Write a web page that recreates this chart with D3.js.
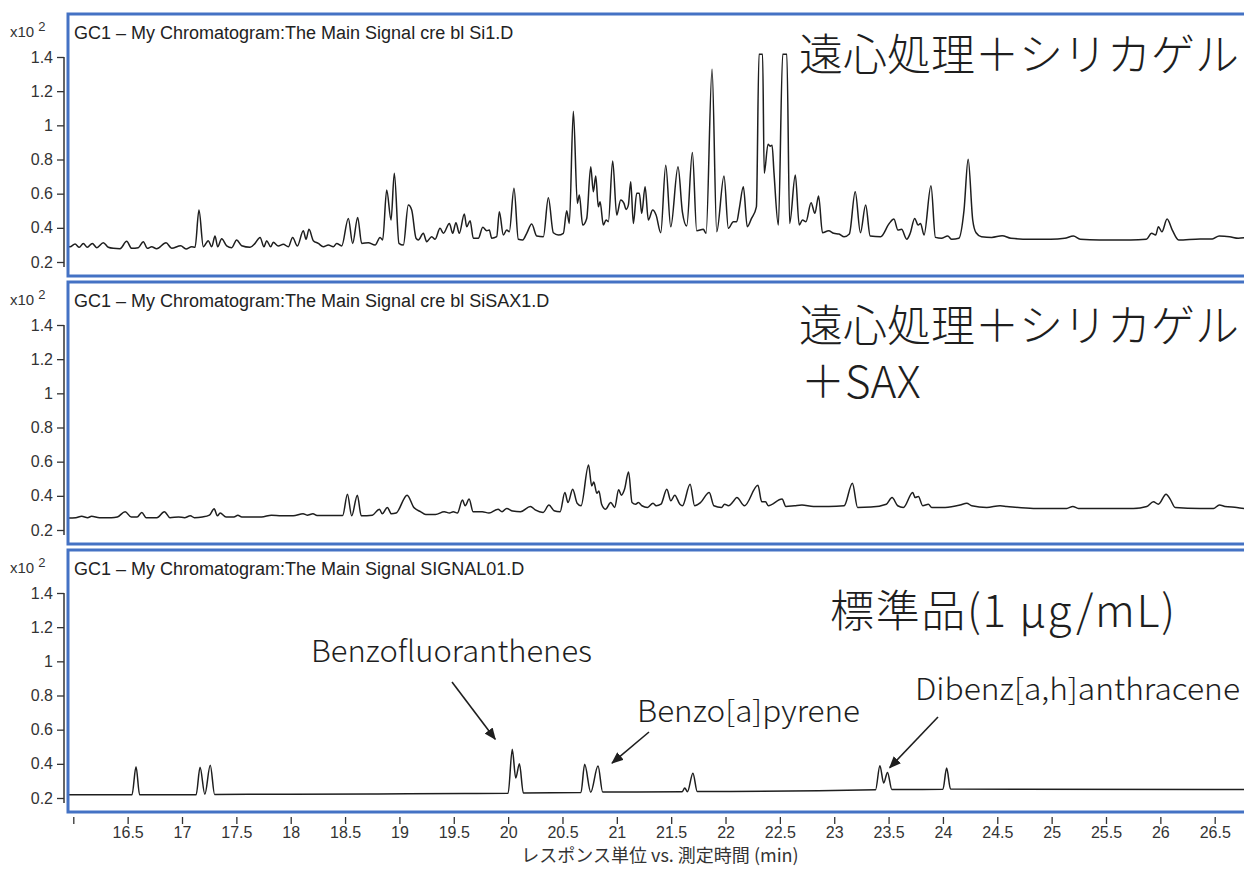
<!DOCTYPE html>
<html>
<head>
<meta charset="utf-8">
<script src="https://cdn.jsdelivr.net/npm/d3@7"></script>
<style>
  body { margin: 0; background: #fff; }
  svg { display: block; }
</style>
</head>
<body>
<svg id="chart" width="1244" height="870"></svg>
<script>
// Retention time (min) / response (x10^2) pairs for each run
const traceSi1 = [
  [15.94,0.29],[15.97,0.289],[16.016,0.305],[16.055,0.286],[16.092,0.309],[16.129,0.286],[16.175,0.309],[16.215,0.284],
  [16.276,0.313],[16.322,0.286],[16.368,0.28],[16.43,0.278],[16.491,0.321],[16.537,0.28],[16.598,0.284],[16.644,0.319],
  [16.681,0.28],[16.721,0.289],[16.767,0.278],[16.853,0.313],[16.905,0.28],[16.988,0.295],[17.037,0.276],[17.089,0.289],
  [17.12,0.286],[17.156,0.504],[17.196,0.289],[17.242,0.325],[17.273,0.289],[17.304,0.352],[17.328,0.289],[17.365,0.336],
  [17.411,0.294],[17.457,0.284],[17.503,0.329],[17.549,0.295],[17.626,0.286],[17.672,0.309],[17.718,0.344],[17.754,0.289],
  [17.779,0.325],[17.816,0.289],[17.84,0.315],[17.886,0.294],[17.932,0.304],[17.978,0.289],[18.018,0.344],[18.061,0.294],
  [18.116,0.383],[18.141,0.333],[18.168,0.391],[18.208,0.325],[18.254,0.309],[18.30,0.289],[18.346,0.299],[18.392,0.289],
  [18.423,0.309],[18.469,0.294],[18.53,0.455],[18.57,0.309],[18.616,0.461],[18.653,0.309],[18.714,0.313],[18.776,0.299],
  [18.822,0.344],[18.846,0.329],[18.883,0.621],[18.923,0.446],[18.953,0.719],[18.996,0.309],[19.036,0.299],[19.082,0.533],
  [19.113,0.504],[19.153,0.339],[19.174,0.329],[19.22,0.368],[19.251,0.319],[19.297,0.348],[19.328,0.333],[19.374,0.397],
  [19.405,0.368],[19.46,0.426],[19.49,0.368],[19.52,0.43],[19.551,0.368],[19.597,0.481],[19.619,0.406],[19.65,0.442],
  [19.68,0.339],[19.726,0.339],[19.767,0.403],[19.803,0.383],[19.827,0.387],[19.849,0.339],[19.895,0.348],[19.919,0.494],
  [19.956,0.358],[19.987,0.387],[20.011,0.377],[20.054,0.631],[20.094,0.333],[20.134,0.329],[20.171,0.368],[20.217,0.422],
  [20.263,0.352],[20.324,0.348],[20.37,0.576],[20.416,0.371],[20.462,0.358],[20.508,0.368],[20.539,0.5],[20.563,0.426],
  [20.60,1.083],[20.637,0.543],[20.655,0.592],[20.686,0.416],[20.723,0.455],[20.76,0.757],[20.784,0.611],[20.806,0.703],
  [20.83,0.523],[20.846,0.553],[20.876,0.416],[20.901,0.446],[20.922,0.436],[20.962,0.791],[20.999,0.475],[21.036,0.563],
  [21.066,0.543],[21.085,0.508],[21.106,0.533],[21.128,0.67],[21.152,0.426],[21.183,0.602],[21.207,0.602],[21.229,0.485],
  [21.26,0.64],[21.29,0.446],[21.33,0.504],[21.361,0.475],[21.404,0.371],[21.45,0.767],[21.496,0.406],[21.563,0.757],
  [21.603,0.494],[21.643,0.411],[21.695,0.841],[21.735,0.383],[21.796,0.391],[21.821,0.368],[21.876,1.329],[21.919,0.377],
  [21.986,0.703],[22.026,0.397],[22.072,0.436],[22.103,0.436],[22.127,0.514],[22.164,0.64],[22.20,0.406],[22.239,0.455],
  [22.284,0.523],[22.308,1.416],[22.341,1.416],[22.356,0.719],[22.391,0.89],[22.41,0.878],[22.428,0.884],[22.446,0.72],
  [22.486,0.416],[22.526,1.416],[22.564,1.416],[22.59,0.426],[22.642,0.709],[22.678,0.416],[22.708,0.446],[22.74,0.436],
  [22.787,0.547],[22.822,0.485],[22.856,0.586],[22.892,0.371],[22.948,0.383],[22.996,0.368],[23.044,0.364],[23.091,0.348],
  [23.139,0.364],[23.193,0.611],[23.241,0.371],[23.289,0.533],[23.331,0.352],[23.427,0.348],[23.506,0.426],[23.549,0.451],
  [23.586,0.387],[23.619,0.391],[23.667,0.333],[23.699,0.368],[23.74,0.455],[23.772,0.416],[23.794,0.426],[23.826,0.358],
  [23.89,0.646],[23.931,0.344],[23.986,0.339],[24.044,0.352],[24.081,0.333],[24.146,0.339],[24.194,0.504],[24.232,0.802],
  [24.274,0.446],[24.305,0.371],[24.354,0.348],[24.449,0.344],[24.545,0.354],[24.625,0.339],[24.801,0.333],[24.992,0.333],
  [25.12,0.339],[25.2,0.352],[25.263,0.333],[25.439,0.329],[25.727,0.329],[25.871,0.333],[25.919,0.368],[25.957,0.358],
  [25.982,0.406],[26.014,0.377],[26.062,0.451],[26.11,0.387],[26.168,0.329],[26.366,0.335],[26.478,0.335],[26.541,0.352],
  [26.637,0.348],[26.717,0.339],[26.774,0.342]
];

const traceSiSAX = [
  [15.94,0.27],[15.958,0.27],[16.023,0.272],[16.077,0.28],[16.132,0.272],[16.168,0.28],[16.241,0.272],[16.35,0.272],
  [16.405,0.276],[16.477,0.307],[16.533,0.276],[16.587,0.276],[16.63,0.303],[16.671,0.272],[16.769,0.272],[16.838,0.307],
  [16.889,0.272],[16.969,0.276],[17.023,0.272],[17.077,0.283],[17.114,0.272],[17.187,0.276],[17.252,0.287],[17.296,0.324],
  [17.325,0.283],[17.351,0.299],[17.405,0.276],[17.478,0.276],[17.514,0.287],[17.55,0.276],[17.623,0.276],[17.732,0.276],
  [17.823,0.287],[17.915,0.283],[18.023,0.283],[18.114,0.295],[18.151,0.287],[18.205,0.295],[18.242,0.285],[18.387,0.285],
  [18.478,0.285],[18.522,0.41],[18.561,0.283],[18.613,0.404],[18.649,0.283],[18.751,0.287],[18.816,0.322],[18.842,0.295],
  [18.889,0.332],[18.926,0.295],[18.969,0.299],[19.071,0.404],[19.133,0.332],[19.194,0.307],[19.242,0.291],[19.332,0.291],
  [19.412,0.307],[19.46,0.299],[19.496,0.307],[19.533,0.299],[19.58,0.375],[19.605,0.342],[19.641,0.381],[19.678,0.307],
  [19.762,0.307],[19.824,0.299],[19.907,0.322],[19.944,0.307],[19.987,0.326],[20.042,0.311],[20.114,0.307],[20.205,0.338],
  [20.249,0.318],[20.322,0.303],[20.376,0.346],[20.423,0.313],[20.478,0.307],[20.522,0.419],[20.551,0.361],[20.594,0.439],
  [20.635,0.357],[20.671,0.342],[20.74,0.58],[20.769,0.458],[20.788,0.481],[20.816,0.415],[20.835,0.429],[20.86,0.351],
  [20.896,0.322],[20.944,0.361],[20.98,0.332],[21.017,0.435],[21.042,0.404],[21.071,0.439],[21.108,0.54],[21.14,0.361],
  [21.173,0.351],[21.198,0.361],[21.231,0.342],[21.282,0.332],[21.333,0.357],[21.362,0.342],[21.406,0.351],[21.46,0.439],
  [21.497,0.371],[21.533,0.404],[21.58,0.351],[21.604,0.342],[21.674,0.468],[21.716,0.342],[21.769,0.36],[21.85,0.42],
  [21.893,0.342],[21.963,0.332],[21.991,0.351],[22.027,0.342],[22.069,0.365],[22.104,0.39],[22.174,0.342],[22.298,0.462],
  [22.333,0.365],[22.368,0.365],[22.393,0.342],[22.52,0.381],[22.555,0.338],[22.633,0.342],[22.703,0.346],[22.809,0.338],
  [22.95,0.338],[23.091,0.342],[23.167,0.474],[23.215,0.332],[23.338,0.334],[23.479,0.351],[23.532,0.39],[23.584,0.342],
  [23.636,0.332],[23.722,0.42],[23.744,0.39],[23.774,0.396],[23.814,0.342],[23.866,0.351],[23.897,0.332],[24.02,0.332],
  [24.158,0.346],[24.219,0.357],[24.265,0.342],[24.403,0.332],[24.526,0.342],[24.587,0.338],[24.832,0.326],[25.139,0.326],
  [25.195,0.338],[25.246,0.326],[25.752,0.326],[25.875,0.338],[25.936,0.365],[25.982,0.351],[26.053,0.41],[26.09,0.381],
  [26.136,0.332],[26.366,0.326],[26.488,0.326],[26.543,0.346],[26.595,0.338],[26.703,0.332],[26.774,0.326]
];

const traceStandard = [
  [15.94,0.219],[16.54,0.219],[16.577,0.383],[16.61,0.219],[17.13,0.219],[17.166,0.38],[17.21,0.222],[17.26,0.391],
  [17.30,0.221],[18.0,0.222],[18.8,0.224],[19.6,0.226],[20.0,0.228],[20.038,0.485],[20.07,0.317],[20.104,0.40],
  [20.14,0.23],[20.67,0.232],[20.704,0.397],[20.76,0.234],[20.827,0.387],[20.87,0.235],[21.6,0.236],[21.625,0.258],
  [21.65,0.237],[21.70,0.345],[21.74,0.238],[23.38,0.248],[23.42,0.389],[23.455,0.288],[23.49,0.35],[23.53,0.25],
  [24.0,0.251],[24.034,0.375],[24.07,0.252],[26.77,0.25]
];

const timeTicks = [16,16.5,17,17.5,18,18.5,19,19.5,20,20.5,21,21.5,22,22.5,23,23.5,24,24.5,25,25.5,26,26.5];
const responseTicks = [0.2,0.4,0.6,0.8,1,1.2,1.4];
const runTitles = [
  "GC1 \u2013 My Chromatogram:The Main Signal cre bl Si1.D",
  "GC1 \u2013 My Chromatogram:The Main Signal cre bl SiSAX1.D",
  "GC1 \u2013 My Chromatogram:The Main Signal SIGNAL01.D"
];
const runLabels = [
  ["遠心処理＋シリカゲル"],
  ["遠心処理＋シリカゲル", "＋SAX"],
  ["標準品(1 μg/mL)"]
];
const compoundNames = ["Benzofluoranthenes", "Benzo[a]pyrene", "Dibenz[a,h]anthracene"];
// compound label anchored near the peak it points at: [peak time, peak response]
const compoundPeaks = [[20.038, 0.485], [20.827, 0.387], [23.455, 0.36]];
const xAxisTitle = "レスポンス単位 vs. 測定時間 (min)";

const svg = d3.select("#chart");
const W = 1244;
const frameLeft = 68;
const panelTops = [14, 282, 550];
const panelH = 262;
const blue = "#4472c4";
const ink = "#1e1e1e";
const cjk = "'Noto Sans CJK JP', 'Noto Sans', sans-serif";
const latin = "'Liberation Sans', Arial, sans-serif";

const x = d3.scaleLinear().domain([16, 26.5]).range([73.3, 1214.7]);

const defs = svg.append("defs");
defs.append("marker")
  .attr("id", "arrowHead")
  .attr("viewBox", "0 0 12 10")
  .attr("refX", 11).attr("refY", 5)
  .attr("markerWidth", 12).attr("markerHeight", 10)
  .attr("markerUnits", "userSpaceOnUse")
  .attr("orient", "auto")
  .append("path").attr("d", "M0,0 L12,5 L0,10 Z").attr("fill", ink);

const traces = [traceSi1, traceSiSAX, traceStandard];

traces.forEach((trace, i) => {
  const top = panelTops[i];
  const y = d3.scaleLinear().domain([0.2, 1.4]).range([top + 248, top + 43]);
  const g = svg.append("g");

  defs.append("clipPath").attr("id", "clip" + i)
    .append("rect").attr("x", frameLeft).attr("y", top).attr("width", W).attr("height", panelH);

  // response axis
  const yAxis = d3.axisLeft(y).tickValues(responseTicks).tickSize(7).tickSizeOuter(0)
    .tickFormat(d => String(d));
  const ag = g.append("g").attr("transform", "translate(64,0)").call(yAxis);
  ag.select(".domain").remove();
  ag.selectAll(".tick line").attr("stroke", "#333").attr("stroke-width", 1.3);
  ag.selectAll(".tick text").attr("fill", "#333").attr("font-family", latin)
    .attr("font-size", 16).attr("x", -11);
  ag.append("line").attr("x1", 0).attr("x2", 0)
    .attr("y1", y(1.4)).attr("y2", y(0.2) + 5)
    .attr("stroke", "#333").attr("stroke-width", 1.5);

  // scale multiplier
  const mult = g.append("text").attr("x", 10).attr("y", top + 23)
    .attr("font-family", latin).attr("font-size", 15).attr("fill", "#333");
  mult.append("tspan").text("x10 ");
  mult.append("tspan").attr("dy", -6).attr("font-size", 13).text("2");

  // signal trace
  const line = d3.line().x(d => x(d[0])).y(d => y(d[1])).curve(d3.curveMonotoneX);
  g.append("path").datum(trace)
    .attr("clip-path", `url(#clip${i})`)
    .attr("d", line)
    .attr("fill", "none").attr("stroke", ink).attr("stroke-width", 1.5)
    .attr("stroke-linejoin", "round");

  // frame
  g.append("rect").attr("x", frameLeft).attr("y", top).attr("width", W).attr("height", panelH)
    .attr("fill", "none").attr("stroke", blue).attr("stroke-width", 3);

  // run title
  g.append("text").attr("x", 74).attr("y", top + 25)
    .attr("font-family", latin).attr("font-size", 18).attr("fill", "#222")
    .text(runTitles[i]);

  // run label (one text block, wrapped onto lines)
  const labelX = [799, 799, 830][i];
  const labelY = [top + 38, top + 41, top + 58][i];
  const label = g.append("text")
    .attr("font-family", cjk).attr("font-weight", 300).attr("font-size", 44)
    .attr("fill", ink);
  runLabels[i].forEach((txt, k) => {
    const t = label.append("tspan")
      .attr("x", labelX + (k > 0 ? 2 : 0))
      .attr("y", labelY + k * 56)
      .attr("dominant-baseline", "central")
      .text(txt);
    if (i === 2) t.attr("textLength", 345).attr("lengthAdjust", "spacing");
  });

  if (i === 2) {
    const nameX = [311, 637, 915];
    const nameY = [662, 722, 700];
    const nameW = [281, 223, 325];
    compoundNames.forEach((nm, k) => {
      g.append("text").attr("x", nameX[k]).attr("y", nameY[k])
        .attr("font-family", cjk).attr("font-weight", 300).attr("font-size", 30)
        .attr("textLength", nameW[k]).attr("lengthAdjust", "spacingAndGlyphs")
        .attr("fill", ink).text(nm);
    });
    // arrows toward each compound's peak
    const arrowFrom = [[452, 682], [649, 732], [938, 717]];
    const arrowOffset = [[-17, -10], [14, -3], [6, -3]];
    compoundPeaks.forEach((p, k) => {
      const tx = x(p[0]) + arrowOffset[k][0];
      const ty = y(p[1]) + arrowOffset[k][1];
      g.append("line")
        .attr("x1", arrowFrom[k][0]).attr("y1", arrowFrom[k][1])
        .attr("x2", tx).attr("y2", ty)
        .attr("stroke", ink).attr("stroke-width", 1.6)
        .attr("marker-end", "url(#arrowHead)");
    });
  }
});

// time axis under the last panel
const xAxis = d3.axisBottom(x).tickValues(timeTicks).tickSize(7).tickSizeOuter(0)
  .tickFormat(d => d === 16 ? "" : String(d));
const xg = svg.append("g").attr("transform", "translate(0,817)").call(xAxis);
xg.select(".domain").remove();
xg.selectAll(".tick line").attr("stroke", "#333").attr("stroke-width", 1.3);
xg.selectAll(".tick text").attr("fill", "#333").attr("font-family", latin)
  .attr("font-size", 16).attr("y", 10);

svg.append("text").attr("x", 660).attr("y", 862).attr("text-anchor", "middle")
  .attr("font-family", cjk).attr("font-size", 18).attr("fill", "#333")
  .text(xAxisTitle);
</script>
</body>
</html>
